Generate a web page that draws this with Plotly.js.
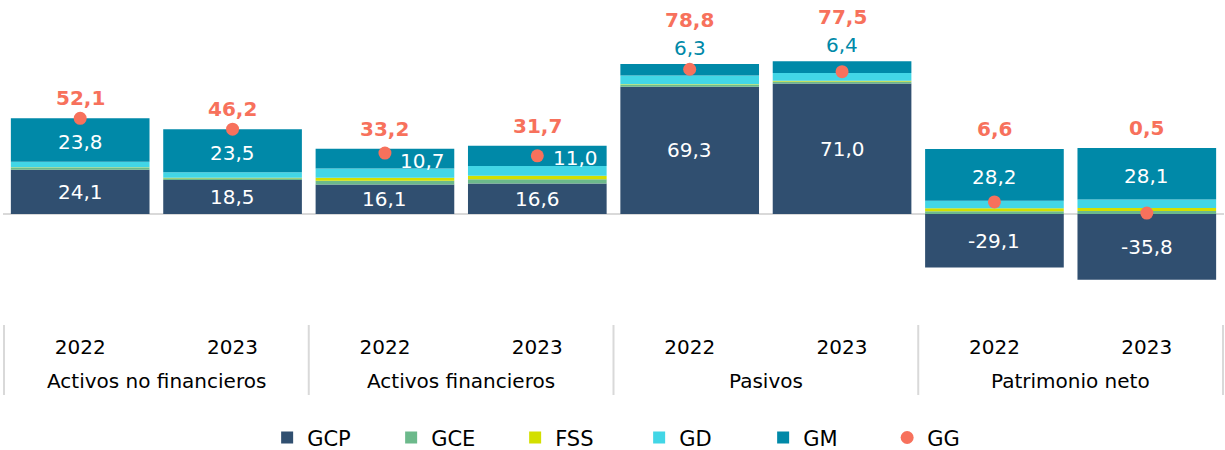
<!DOCTYPE html>
<html>
<head>
<meta charset="utf-8">
<script src="https://cdn.plot.ly/plotly-3.0.1.min.js"></script>
<style>html,body{margin:0;padding:0;background:#fff}#chart{width:1225px;height:450px}</style>
</head>
<body>
<div id="chart"></div>
<script>
// ---- data ----
var groups = ['Activos no financieros','Activos no financieros','Activos financieros','Activos financieros','Pasivos','Pasivos','Patrimonio neto','Patrimonio neto'];
var years  = ['2022','2023','2022','2023','2022','2023','2022','2023'];
var GCP = [24.1, 18.5, 16.1, 16.6, 69.3, 71.0, -29.1, -35.8];
var GCE = [1.2, 1.0, 2.0, 2.4, 1.1, 1.2, 1.5, 1.6];
var FSS = [0.1, 0.2, 1.6, 1.8, 0.3, 0.3, 1.7, 1.7];
var GD  = [3.0, 3.0, 5.1, 5.3, 4.7, 4.3, 4.0, 4.6];
var GM  = [23.8, 23.5, 10.7, 11.0, 6.3, 6.4, 28.2, 28.1];
var GG  = [52.1, 46.2, 33.2, 31.7, 78.8, 77.5, 6.6, 0.5];

// ---- styles ----
var FONT = 'DejaVu Sans, Verdana, sans-serif';
var C = {GCP:'#304f70', GCE:'#6cb98b', FSS:'#d3df00', GD:'#42d6e6', GM:'#0089a8', GG:'#f7715c'};
var gmMode = ['in','in','right','right','above','above','in','in'];
var PLOT_H = 325;                 // plot area height in px
var GROUP_LABEL_Y = -(381 - 325) / PLOT_H;
var DIVIDER_Y = -(395 - 325) / PLOT_H;

// unique category keys (group + year)
var keys = groups.map(function(g, i){ return g + '|' + years[i]; });
function fmt(v){ return v.toFixed(1).replace('.', ','); }

function barTrace(name, vals){
  return {type:'bar', name:name, x:keys, y:vals, marker:{color:C[name]}, hoverinfo:'skip'};
}
var traces = [
  barTrace('GCP', GCP), barTrace('GCE', GCE), barTrace('FSS', FSS), barTrace('GD', GD), barTrace('GM', GM),
  {type:'scatter', mode:'markers', name:'GG', x:keys, y:GG, marker:{color:C.GG, size:13}, hoverinfo:'skip'}
];

var ann = [];
for (var i = 0; i < GCP.length; i++) {
  var xv = keys[i];
  var pos = [GCP[i], GCE[i], FSS[i], GD[i], GM[i]].filter(function(v){return v>0;}).reduce(function(a,b){return a+b;},0);
  ann.push({x:xv, y:GCP[i]/2, text:fmt(GCP[i]), showarrow:false, font:{family:FONT,size:20,color:'#ffffff'}});
  var gmBase = pos - GM[i];
  if (gmMode[i] === 'above') {
    ann.push({x:xv, y:pos, yshift:16, text:fmt(GM[i]), showarrow:false, font:{family:FONT,size:20,color:'#0089a8'}});
  } else {
    ann.push({x:xv, y:gmBase + GM[i]/2, xshift:(gmMode[i]==='right'?38:0), yshift:-2, text:fmt(GM[i]), showarrow:false, font:{family:FONT,size:20,color:'#ffffff'}});
  }
  ann.push({x:xv, y:pos, yshift:(gmMode[i]==='above'?44:20), text:'<b>'+fmt(GG[i])+'</b>', showarrow:false, font:{family:FONT,size:20,color:C.GG}});
}

// group labels and dividers on the category scale
var shapes = [];
var uniq = [];
groups.forEach(function(g){ if (uniq.indexOf(g) < 0) uniq.push(g); });
uniq.forEach(function(g, k){
  var idx = []; groups.forEach(function(gg, i){ if (gg === g) idx.push(i); });
  var lo = idx[0], hi = idx[idx.length-1];
  ann.push({x:(lo+hi)/2, xref:'x', y:GROUP_LABEL_Y, yref:'paper', yanchor:'middle', text:g, showarrow:false,
            font:{family:FONT,size:20,color:'#000000'}});
  if (k === 0) shapes.push({type:'line', xref:'x', yref:'paper', x0:lo-0.5, x1:lo-0.5, y0:0, y1:DIVIDER_Y, line:{color:'#d9d9d9', width:2}});
  shapes.push({type:'line', xref:'x', yref:'paper', x0:hi+0.5, x1:hi+0.5, y0:0, y1:DIVIDER_Y, line:{color:'#d9d9d9', width:2}});
});

var layout = {
  width:1225, height:450,
  margin:{l:3, r:1, t:0, b:125},
  paper_bgcolor:'#ffffff', plot_bgcolor:'#ffffff',
  barmode:'relative', bargap:0.09,
  font:{family:FONT, size:20, color:'#000000'},
  xaxis:{type:'category', tickmode:'array', tickvals:keys, ticktext:years,
         tickfont:{family:FONT,size:20,color:'#000000'}, showline:false, ticks:'', showgrid:false,
         ticklabelstandoff:8},
  yaxis:{range:[-60.4,116.5], showticklabels:false, showgrid:false, zeroline:true, zerolinecolor:'#d9d9d9', zerolinewidth:2, fixedrange:true},
  showlegend:true,
  legend:{orientation:'h', x:0.521, xanchor:'center', yref:'container', y:0.027, yanchor:'middle',
          font:{family:FONT,size:21,color:'#000000'}, traceorder:'normal', entrywidth:79, entrywidthmode:'pixels', itemwidth:30},
  annotations:ann,
  shapes:shapes
};
Plotly.newPlot('chart', traces, layout, {displayModeBar:false, staticPlot:true});
</script>
</body>
</html>
